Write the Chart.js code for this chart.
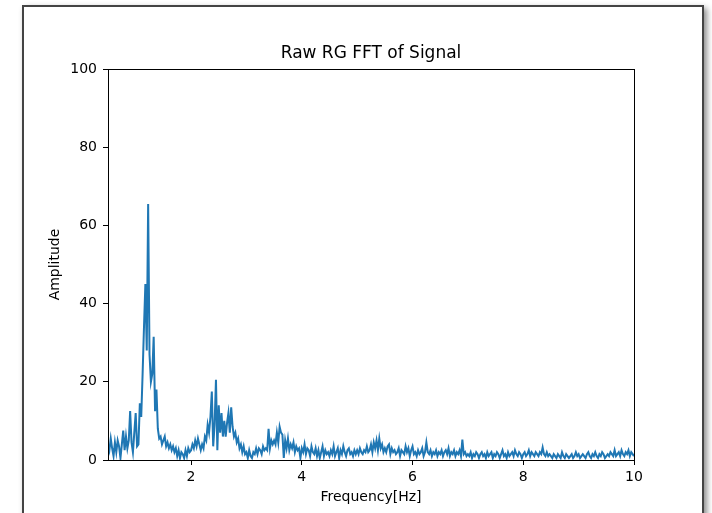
<!DOCTYPE html>
<html>
<head>
<meta charset="utf-8" />
<title>Raw RG FFT of Signal</title>
<script src="https://cdn.jsdelivr.net/npm/chart.js@4.4.1/dist/chart.umd.min.js"></script>
<style>
  html, body { margin: 0; padding: 0; background: #fff; overflow: hidden; }
  #frame {
    position: absolute; left: 22px; top: 5px; width: 678px; height: 600px;
    border: 2px solid #444; box-shadow: 3px 3px 6px rgba(0,0,0,0.45); background: #fff;
  }
  #wrap { position: absolute; left: 0; top: 0; width: 712px; height: 513px; }
</style>
</head>
<body>
<div id="frame"></div>
<div id="wrap"><canvas id="fftChart"></canvas></div>
<script>
const chartTitle = 'Raw RG FFT of Signal';

// frequency grid of the spectrum (Hz)
const freqStart = 0.5;
const freqStep = 0.025;

// amplitude, one row per 0.5 Hz
const amplitude = [
  4, 2.5, 5.5, 3, 1, 4.5, 2, 5, 3.5, 0.5, 4, 7.5, 2.5, 6, 3, 5, 12.5, 4.5, 2, 7,
  12, 3.5, 4, 14.5, 11, 22, 34, 45, 28, 65.5, 27, 20, 22, 31.5, 12.5, 18, 8, 5.5, 6, 4,
  5, 6, 3.5, 4.5, 3, 4, 2.5, 3.5, 2, 3, 1, 2.5, 0.5, 2, 1.5, 0.5, 2.5, 1, 3, 2,
  2.5, 4, 3, 5, 3.5, 5.5, 4, 2.5, 4, 3, 6, 5, 9, 7, 11, 17.5, 3.5, 9, 20.5, 2.5,
  14, 7, 12, 6, 10, 6, 9.5, 12, 7, 13.5, 8.5, 6, 7, 4.5, 5.5, 3, 4, 2, 3.5, 1.5,
  2, 0.5, 2.5, 1, 0.5, 2, 1.5, 3, 1.5, 3, 2.5, 1.5, 3.5, 2.5, 3, 2.5, 8, 3, 5, 4,
  5, 4, 7, 4.5, 8.5, 7, 6.5, 0.5, 5, 3, 5.5, 2.5, 4, 3, 4.5, 2, 3.5, 2.5, 3, 0.5,
  3, 2, 4, 1.5, 3, 2.5, 1, 3.5, 2, 1.5, 3, 1, 2.5, 0.5, 2, 3.5, 1, 2.5, 1.5, 2,
  1, 2.5, 1.5, 3.5, 1, 2, 3, 0.5, 2.5, 1.5, 3.5, 2, 1, 2.5, 3, 1.5, 2, 1, 2.5, 1.5,
  2.5, 1.5, 3, 2, 1.5, 2.5, 2, 3.5, 2, 2.5, 4, 2, 4.5, 3, 5, 2.5, 5.5, 3, 4, 2,
  3, 2, 3.5, 4, 1.5, 3, 2, 2.5, 1.5, 2, 3, 1, 2.5, 2, 1.5, 3.5, 2, 3, 1, 2.5,
  3.5, 1.5, 2, 1, 2.5, 1.5, 2, 3, 1, 2, 4.5, 2, 1.5, 2.5, 1, 2, 1.5, 2.5, 1, 2,
  1.5, 2.5, 1, 2, 2.5, 1.5, 3, 1, 2, 1.5, 2.5, 1, 2, 1.5, 2.5, 1, 5.2, 1.5, 2, 1,
  1.5, 1, 2, 0.5, 1.5, 1, 2, 1.5, 0.5, 1.5, 2, 1, 1.5, 0.5, 2, 1, 1.5, 2, 0.5, 1.5,
  1, 2, 1.5, 0.5, 1.5, 2.5, 1, 1.5, 0.5, 2, 1, 1.5, 2, 1, 2.5, 1.5, 1, 2, 1.5, 0.5,
  1.5, 2, 1, 1.5, 2.5, 1, 2, 1.5, 1, 2, 1.5, 1, 2, 1.5, 3.2, 1.5, 1, 2, 1, 1.5,
  1, 0.5, 1.5, 1, 0.5, 1.5, 1, 0.5, 2, 1, 0.5, 1.5, 1, 0.5, 1, 1.5, 0.5, 1, 2, 1,
  1.5, 0.5, 1, 1.5, 1, 0.5, 1.5, 2, 1, 0.5, 1.5, 1, 2, 1, 0.5, 1.5, 1, 2, 1.5, 0.5,
  1, 1.5, 1, 2, 1.5, 1, 2.5, 1, 1.5, 2, 1, 2.5, 1.5, 1, 2, 1.5, 2.5, 1, 2, 1.5,
  1
];

const xTicks = [2, 4, 6, 8, 10];
const yTicks = [0, 20, 40, 60, 80, 100];

const points = amplitude.map((a, i) => ({
  x: Math.round((freqStart + i * freqStep) * 1000) / 1000,
  y: a
}));

const tickFont = { family: 'DejaVu Sans', size: 14 };

// matplotlib style: box around the axes and title centred over them
const boxPlugin = {
  id: 'box',
  afterDatasetsDraw(chart) {
    const a = chart.chartArea, ctx = chart.ctx;
    ctx.save();
    ctx.strokeStyle = '#000';
    ctx.lineWidth = 1;
    ctx.strokeRect(Math.round(a.left) + 0.5, Math.round(a.top) + 0.5,
      Math.round(a.right - a.left), Math.round(a.bottom - a.top));
    ctx.fillStyle = '#000';
    ctx.font = '17px "DejaVu Sans"';
    ctx.textAlign = 'center';
    ctx.textBaseline = 'alphabetic';
    ctx.fillText(chartTitle, (a.left + a.right) / 2, a.top - 11);
    ctx.restore();
  }
};

new Chart(document.getElementById('fftChart'), {
  type: 'line',
  data: {
    datasets: [{
      data: points,
      borderColor: '#1f77b4',
      borderWidth: 2,
      pointRadius: 0,
      tension: 0,
      fill: false
    }]
  },
  options: {
    responsive: true,
    maintainAspectRatio: false,
    animation: false,
    events: [],
    layout: { padding: { left: 0, right: 78, top: 69, bottom: 0 } },
    plugins: {
      legend: { display: false },
      tooltip: { enabled: false },
      title: { display: false }
    },
    scales: {
      x: {
        type: 'linear',
        min: 0.5,
        max: 10,
        afterBuildTicks: s => { s.ticks = xTicks.map(v => ({ value: v })); },
        afterFit: s => { s.height = 53; },
        ticks: { color: '#000', font: tickFont, padding: 4, maxRotation: 0 },
        grid: { drawOnChartArea: false, drawTicks: true, tickLength: 5, tickColor: '#000' },
        border: { display: true, color: '#000' },
        title: {
          display: true, text: 'Frequency[Hz]', color: '#000',
          font: tickFont, padding: { top: 0, bottom: 7.6 }
        }
      },
      y: {
        type: 'linear',
        min: 0,
        max: 100,
        afterBuildTicks: s => { s.ticks = yTicks.map(v => ({ value: v })); },
        afterFit: s => { s.width = 108; },
        ticks: { color: '#000', font: tickFont, padding: 6 },
        grid: { drawOnChartArea: false, drawTicks: true, tickLength: 5, tickColor: '#000' },
        border: { display: true, color: '#000' },
        title: {
          display: true, text: 'Amplitude', color: '#000',
          font: tickFont, padding: { top: 46.6, bottom: 0 }
        }
      }
    }
  },
  plugins: [boxPlugin]
});
</script>
</body>
</html>
